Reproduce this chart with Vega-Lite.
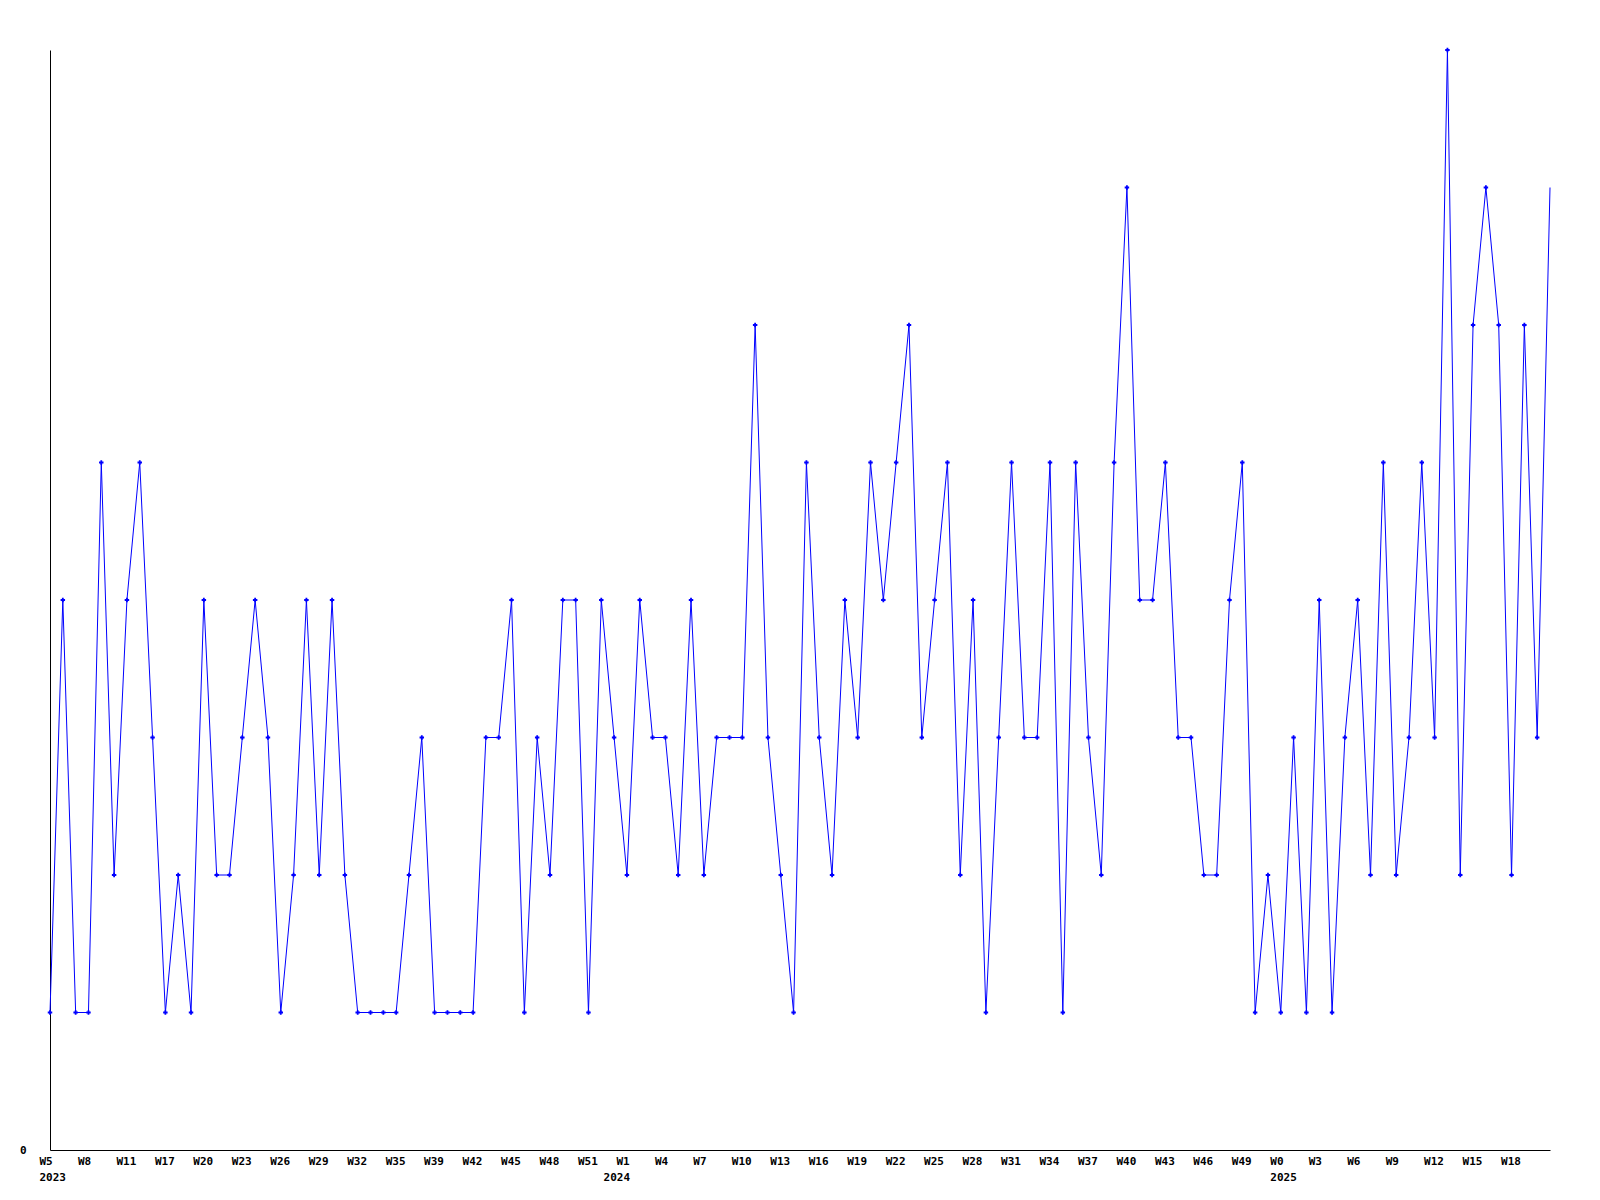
{
  "$schema": "https://vega.github.io/schema/vega-lite/v6.json",
  "width": 1500,
  "height": 1100,
  "autosize": "none",
  "padding": {"left": 50, "top": 50, "right": 50, "bottom": 50},
  "background": "white",
  "config": {"view": {"stroke": null}},
  "data": {"values": [
    {"wk": "2023-05", "v": 1}, {"wk": "2023-06", "v": 4}, {"wk": "2023-07", "v": 1}, {"wk": "2023-08", "v": 1},
    {"wk": "2023-09", "v": 5}, {"wk": "2023-10", "v": 2}, {"wk": "2023-11", "v": 4}, {"wk": "2023-13", "v": 5},
    {"wk": "2023-15", "v": 3}, {"wk": "2023-17", "v": 1}, {"wk": "2023-18", "v": 2}, {"wk": "2023-19", "v": 1},
    {"wk": "2023-20", "v": 4}, {"wk": "2023-21", "v": 2}, {"wk": "2023-22", "v": 2}, {"wk": "2023-23", "v": 3},
    {"wk": "2023-24", "v": 4}, {"wk": "2023-25", "v": 3}, {"wk": "2023-26", "v": 1}, {"wk": "2023-27", "v": 2},
    {"wk": "2023-28", "v": 4}, {"wk": "2023-29", "v": 2}, {"wk": "2023-30", "v": 4}, {"wk": "2023-31", "v": 2},
    {"wk": "2023-32", "v": 1}, {"wk": "2023-33", "v": 1}, {"wk": "2023-34", "v": 1}, {"wk": "2023-35", "v": 1},
    {"wk": "2023-36", "v": 2}, {"wk": "2023-37", "v": 3}, {"wk": "2023-39", "v": 1}, {"wk": "2023-40", "v": 1},
    {"wk": "2023-41", "v": 1}, {"wk": "2023-42", "v": 1}, {"wk": "2023-43", "v": 3}, {"wk": "2023-44", "v": 3},
    {"wk": "2023-45", "v": 4}, {"wk": "2023-46", "v": 1}, {"wk": "2023-47", "v": 3}, {"wk": "2023-48", "v": 2},
    {"wk": "2023-49", "v": 4}, {"wk": "2023-50", "v": 4}, {"wk": "2023-51", "v": 1}, {"wk": "2023-52", "v": 4},
    {"wk": "2024-00", "v": 3}, {"wk": "2024-01", "v": 2}, {"wk": "2024-02", "v": 4}, {"wk": "2024-03", "v": 3},
    {"wk": "2024-04", "v": 3}, {"wk": "2024-05", "v": 2}, {"wk": "2024-06", "v": 4}, {"wk": "2024-07", "v": 2},
    {"wk": "2024-08", "v": 3}, {"wk": "2024-09", "v": 3}, {"wk": "2024-10", "v": 3}, {"wk": "2024-11", "v": 6},
    {"wk": "2024-12", "v": 3}, {"wk": "2024-13", "v": 2}, {"wk": "2024-14", "v": 1}, {"wk": "2024-15", "v": 5},
    {"wk": "2024-16", "v": 3}, {"wk": "2024-17", "v": 2}, {"wk": "2024-18", "v": 4}, {"wk": "2024-19", "v": 3},
    {"wk": "2024-20", "v": 5}, {"wk": "2024-21", "v": 4}, {"wk": "2024-22", "v": 5}, {"wk": "2024-23", "v": 6},
    {"wk": "2024-24", "v": 3}, {"wk": "2024-25", "v": 4}, {"wk": "2024-26", "v": 5}, {"wk": "2024-27", "v": 2},
    {"wk": "2024-28", "v": 4}, {"wk": "2024-29", "v": 1}, {"wk": "2024-30", "v": 3}, {"wk": "2024-31", "v": 5},
    {"wk": "2024-32", "v": 3}, {"wk": "2024-33", "v": 3}, {"wk": "2024-34", "v": 5}, {"wk": "2024-35", "v": 1},
    {"wk": "2024-36", "v": 5}, {"wk": "2024-37", "v": 3}, {"wk": "2024-38", "v": 2}, {"wk": "2024-39", "v": 5},
    {"wk": "2024-40", "v": 7}, {"wk": "2024-41", "v": 4}, {"wk": "2024-42", "v": 4}, {"wk": "2024-43", "v": 5},
    {"wk": "2024-44", "v": 3}, {"wk": "2024-45", "v": 3}, {"wk": "2024-46", "v": 2}, {"wk": "2024-47", "v": 2},
    {"wk": "2024-48", "v": 4}, {"wk": "2024-49", "v": 5}, {"wk": "2024-50", "v": 1}, {"wk": "2024-51", "v": 2},
    {"wk": "2025-00", "v": 1}, {"wk": "2025-01", "v": 3}, {"wk": "2025-02", "v": 1}, {"wk": "2025-03", "v": 4},
    {"wk": "2025-04", "v": 1}, {"wk": "2025-05", "v": 3}, {"wk": "2025-06", "v": 4}, {"wk": "2025-07", "v": 2},
    {"wk": "2025-08", "v": 5}, {"wk": "2025-09", "v": 2}, {"wk": "2025-10", "v": 3}, {"wk": "2025-11", "v": 5},
    {"wk": "2025-12", "v": 3}, {"wk": "2025-13", "v": 8}, {"wk": "2025-14", "v": 2}, {"wk": "2025-15", "v": 6},
    {"wk": "2025-16", "v": 7}, {"wk": "2025-17", "v": 6}, {"wk": "2025-18", "v": 2}, {"wk": "2025-19", "v": 6},
    {"wk": "2025-20", "v": 3}, {"wk": "2025-21", "v": 7}
  ]},
  "encoding": {
    "x": {
      "field": "wk", "type": "ordinal", "sort": null,
      "scale": {"type": "point", "padding": 0},
      "axis": {
        "title": null, "grid": false, "ticks": false,
        "domainColor": "black", "domainWidth": 1,
        "labelFont": "DejaVu Sans Mono", "labelFontWeight": "bold", "labelFontSize": 11,
        "labelColor": "black", "labelAngle": 0, "labelAlign": "left", "labelBaseline": "top",
        "labelOffset": -11, "labelPadding": 5, "labelOverlap": false, "labelLineHeight": 16,
        "values": ["2023-05","2023-08","2023-11","2023-17","2023-20","2023-23","2023-26","2023-29","2023-32","2023-35","2023-39","2023-42","2023-45","2023-48","2023-51","2024-00","2024-01","2024-04","2024-07","2024-10","2024-13","2024-16","2024-19","2024-22","2024-25","2024-28","2024-31","2024-34","2024-37","2024-40","2024-43","2024-46","2024-49","2025-00","2025-03","2025-06","2025-09","2025-12","2025-15","2025-18"],
        "labelExpr": "datum.value == '2024-00' ? ['', '2024'] : indexof(['2023-05','2025-00'], datum.value) >= 0 ? ['W' + toNumber(slice(datum.value, 5)), slice(datum.value, 0, 4)] : 'W' + toNumber(slice(datum.value, 5))"
      }
    },
    "y": {
      "field": "v", "type": "quantitative",
      "scale": {"domain": [0, 8], "nice": false, "zero": true},
      "axis": {
        "title": null, "grid": false, "ticks": false, "values": [0],
        "domainColor": "black", "domainWidth": 1,
        "labelFont": "DejaVu Sans Mono", "labelFontWeight": "bold", "labelFontSize": 11,
        "labelColor": "black", "labelPadding": 24, "labelBaseline": "middle"
      }
    }
  },
  "layer": [
    {"mark": {"type": "line", "color": "#0000ff", "strokeWidth": 1}},
    {
      "transform": [{"filter": "datum.wk != '2025-21'"}],
      "mark": {"type": "point", "shape": "cross", "filled": true, "color": "#0000ff", "size": 20, "opacity": 1}
    }
  ]
}
